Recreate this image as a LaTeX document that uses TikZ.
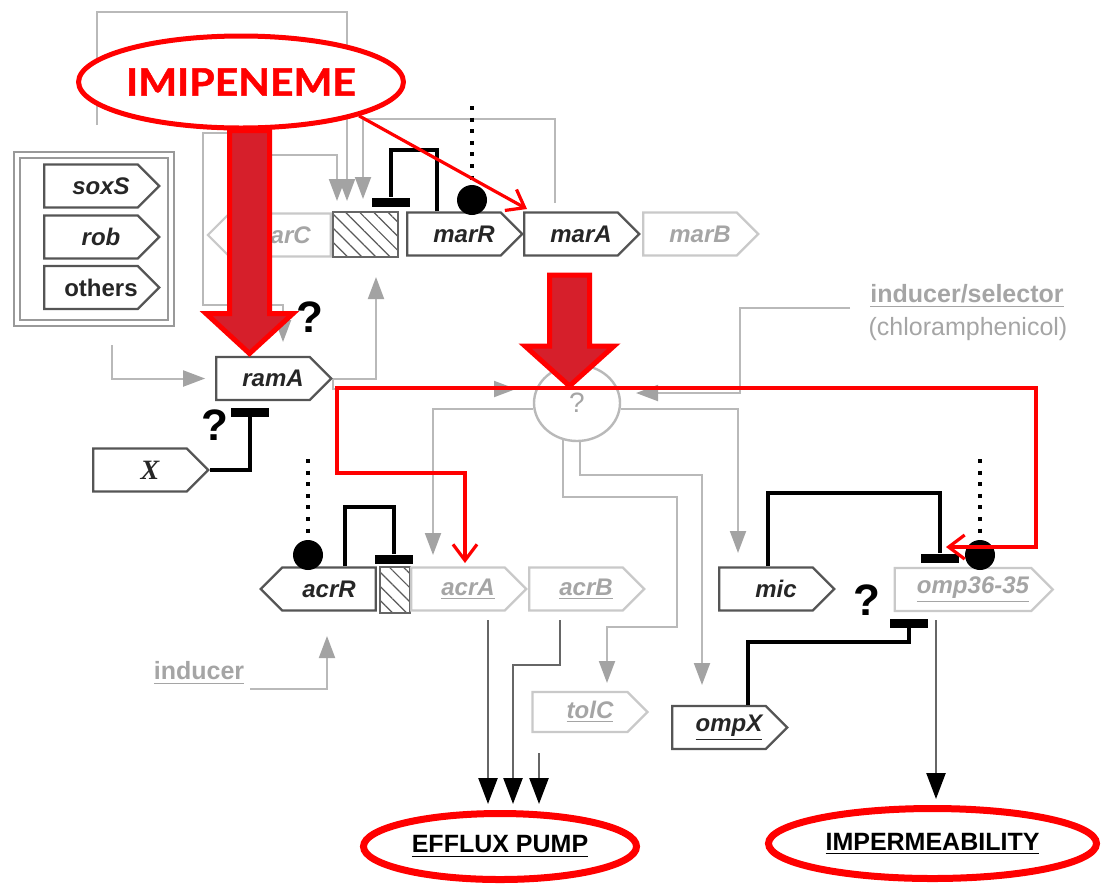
\documentclass[tikz,border=0pt]{standalone}
\usepackage{fontspec}
\setmainfont{Liberation Sans}
\newfontfamily\imifont[FakeStretch=1.08, BoldFeatures={FakeBold=1.3}]{Lato}
\newfontfamily\xfont{Liberation Serif}
\usetikzlibrary{arrows.meta,positioning,shapes.geometric,shapes.symbols,patterns.meta}

\definecolor{wire}{HTML}{B9B9B9}
\definecolor{wirehead}{HTML}{A3A3A3}
\definecolor{pale}{HTML}{C9C9C9}
\definecolor{paletext}{HTML}{A5A5A5}
\definecolor{boxgray}{HTML}{555555}
\definecolor{pumpred}{HTML}{D61F2B}
\definecolor{alarm}{HTML}{FF0000}

\tikzset{
  wiretip/.tip={Triangle[width=8pt,length=11pt,color=wirehead]},
  outtip/.tip={Triangle[width=9.5pt,length=13pt,color=black]},
  redtip/.tip={Straight Barb[length=8pt,width=12pt]},
  gene/.style={signal, signal to=east, draw=boxgray, line width=1.1pt, fill=white,
    minimum width=57.5pt, minimum height=21.5pt, inner sep=0pt, text=black!85,
    font=\bfseries\itshape\fontsize{12}{12}\selectfont,
    execute at begin node=\hspace*{10pt}},
  genewest/.style={gene, signal to=west,
    execute at begin node={}, execute at end node=\hspace*{10pt}},
  offgene/.style={gene, draw=pale, text=paletext},
  hatchbox/.style={draw=black!60, line width=0.8pt, inner sep=0pt, pattern color=black!65,
    pattern={Lines[angle=-45,distance=5pt,line width=0.6pt]}},
  wirearrow/.style={draw=wire, line width=1pt, -wiretip},
  repress/.style={draw=black, line width=2pt},
  tbar/.style={rectangle, fill=black, inner sep=0pt, minimum width=19pt, minimum height=4.5pt},
  blob/.style={circle, fill=black, inner sep=0pt, minimum size=15pt},
  signalline/.style={draw=black, line width=2pt, dash pattern=on 2pt off 3.8pt},
  outarrow/.style={draw=black!60, line width=1.2pt, -outtip, shorten >=3pt},
  redline/.style={draw=alarm, line width=1.6pt},
  bigarrow/.style={fill=pumpred, draw=alarm, line width=2.5pt, miter limit=10},
  outcome/.style={ellipse, draw=alarm, line width=3.5pt, inner sep=0pt,
    font=\bfseries\fontsize{12.5}{12.5}\selectfont},
  qmark/.style={inner sep=0pt, font=\bfseries\fontsize{22}{22}\selectfont},
  faint/.style={inner sep=0pt, text=paletext, font=\bfseries\fontsize{12.5}{15}\selectfont}
}

\begin{document}
\begin{tikzpicture}[x=0.5pt, y=-0.5pt]
    \useasboundingbox (0,0) rectangle (1102,885);

    % regulators on the left
    \node[draw=black!40, line width=0.9pt, double=white, double distance=2pt,
      minimum width=77pt, minimum height=84pt, inner sep=0pt] (regbox) at (94,239) {};
    \node[gene] (soxS) at (91,186) {soxS};
    \node[gene] (rob) at (91,237) {rob};
    \node[gene, font=\bfseries\fontsize{12}{12}\selectfont] (others) at (91,287.5) {others};

    % mar locus
    \node[genewest, draw=pale, text=paletext] (marC) at (280,235) {marC};
    \node[hatchbox, minimum width=32.5pt, minimum height=22.5pt] (marO) at (365.5,234.5) {};
    \node[gene] (marR) at (454,234) {marR};
    \node[gene] (marA) at (571,234) {marA};
    \node[offgene] (marB) at (690,234) {marB};
    \node[gene] (ramA) at (263,378.5) {ramA};
    \node[gene, font=\xfont\bfseries\itshape\fontsize{14}{14}\selectfont] (X) at (140,470) {X};

    % acr locus and porins
    \node[genewest] (acrR) at (329,589) {acrR};
    \node[hatchbox, minimum width=15pt, minimum height=23pt] (acrO) at (395,590) {};
    \node[offgene] (acrA) at (458,589) {\underline{acrA}};
    \node[offgene] (acrB) at (576,589) {\underline{acrB}};
    \node[gene] (mic) at (766,589) {mic};
    \node[offgene, minimum width=79pt] (omp) at (963,589.5) {\underline{omp36-35}};
    \node[offgene, minimum height=20pt] (tolC) at (580,712) {\underline{tolC}};
    \node[gene] (ompX) at (719,727.5) {\underline{ompX}};

    \node[ellipse, draw=wire, line width=1.2pt, minimum width=43pt, minimum height=38pt,
      inner sep=0pt, text=paletext, font=\fontsize{14}{14}\selectfont] (sw) at (577,403) {?};

    \node[faint] (sel) at (967,296) {\underline{inducer/selector}};
    \node[faint, font=\fontsize{12.5}{15}\selectfont] (cam) at (968,329) {(chloramphenicol)};
    \node[faint] (ind) at (199,673) {\underline{inducer}};

    % grey wiring
    \coordinate (regup) at (97,125);
    \coordinate (regout) at (112,345);
    \coordinate (marOa) at (337,201);
    \coordinate (marOb) at (347,201);
    \coordinate (marOc) at (363,199);
    \coordinate (marOup) at (376,277);
    \coordinate (marAfb) at (555,203);
    \coordinate (ramAq) at (283,342);
    \coordinate (swin) at (516,389);
    \coordinate (swright) at (636,393);
    \coordinate (selout) at (850,308);
    \coordinate (acrAin) at (433,555);
    \coordinate (micin) at (738,553);
    \coordinate (tolCin) at (607,683);
    \coordinate (ompXin) at (702,685);
    \coordinate (indout) at (250,689);
    \coordinate (acrRin) at (327,636);

    \draw[wirearrow] (regup) -- (97,12) -| (marOb);
    \draw[wirearrow, wiretip-wiretip] (ramAq) |- (203,305) |- (250,133) -- (250,155) -| (marOa);
    \draw[wirearrow] (marAfb) -- (555,119) -| (marOc);
    \draw[wirearrow] (ramA.east) -| (marOup);
    \draw[wirearrow, shorten >=5pt] (regout) |- (ramA.west);
    \draw[wirearrow] (ramA.east) |- (swin);
    \draw[wirearrow] (selout) -- (740,308) |- (swright);
    \draw[wirearrow] (sw.188) -| (acrAin);
    \draw[wirearrow] (sw.-8) -| (micin);
    \draw[wirearrow] (sw.-110) |- (677,497) |- (607,627) -- (tolCin);
    \draw[wirearrow] (sw.-85) |- (702,475) -- (ompXin);
    \draw[wirearrow] (indout) -| (acrRin);

    % repressors and signals
    \node[tbar] (marRbar) at (391,202) {};
    \draw[repress] (marR.north -| 437,0) -- (437,150) -| (marRbar.north);
    \node[blob] (marRdot) at (472,200) {};
    \coordinate (marRsig) at (472,106);
    \draw[signalline] (marRsig) -- (marRdot);

    \node[tbar] (acrObar) at (393.5,559) {};
    \draw[repress] (acrR.north -| 345,0) -- (345,507) -| (acrObar.north);
    \node[blob] (acrRdot) at (308,555) {};
    \coordinate (acrRsig) at (308,459);
    \draw[signalline] (acrRsig) -- (acrRdot);

    \node[tbar] (ompbar) at (940,558) {};
    \draw[repress] (mic.north -| 768,0) -- (768,493) -| (ompbar.north);
    \node[blob] (ompdot) at (980,555) {};
    \coordinate (ompsig) at (980,459);
    \draw[signalline] (ompsig) -- (ompdot);

    \node[tbar] (ramAbar) at (250,412) {};
    \draw[repress] (X.east) -| (ramAbar.south);
    \node[tbar] (ompXbar) at (908.5,623) {};
    \draw[repress] (ompX.north -| 748,0) -- (748,642) -| (ompXbar.south);

    \node[qmark] (q1) at (310,317) {?};
    \node[qmark] (q2) at (215,425) {?};
    \node[qmark] (q3) at (867,600) {?};

    % outcomes
    \node[outcome, minimum width=136.5pt, minimum height=33pt] (efflux) at (500,846.5) {\underline{EFFLUX PUMP}};
    \node[outcome, minimum width=164pt, minimum height=35pt] (imperm) at (932.5,843.5) {\underline{IMPERMEABILITY}};

    \coordinate (acrAout) at (488,620);
    \coordinate (acrBout) at (560,620);
    \coordinate (tolCout) at (539,753);
    \coordinate (ompout) at (936,620);
    \draw[outarrow] (acrAout) -- (acrAout |- efflux.north);
    \draw[outarrow] (acrBout) -- (560,665) -| (efflux.north -| 513,0);
    \draw[outarrow] (tolCout) -- (tolCout |- efflux.north);
    \draw[outarrow] (ompout) -- (ompout |- imperm.north);

    % imipenem overlay
    \node[ellipse, draw=alarm, fill=white, line width=2.5pt, minimum width=143.5pt, minimum height=46pt,
      inner sep=0pt, text=alarm, font=\imifont\bfseries\fontsize{19}{19}\selectfont] (imi) at (241,82) {IMIPENEME};

    \draw[bigarrow] (imi.south -| 249.5,0) ++(-20,0) -- ++(40,0) -- ++(0,183) -- ++(23.5,0)
      -- ++(-43.5,40) -- ++(-43.5,-40) -- ++(23.5,0) -- cycle;
    \draw[bigarrow] (549.5,275) -- ++(40,0) -- ++(0,71) -- ++(24.5,0)
      -- ++(-44.5,40) -- ++(-44.5,-40) -- ++(24.5,0) -- cycle;

    \coordinate (marAred) at (527,209);
    \coordinate (acrAred) at (465,563);
    \coordinate (ompred) at (946,547);
    \draw[redline, -redtip] (imi.-16) -- (marAred);
    \draw[redline, redtip-redtip] (acrAred) |- (337,473) |- (1036,388) |- (ompred);
\end{tikzpicture}
\end{document}
